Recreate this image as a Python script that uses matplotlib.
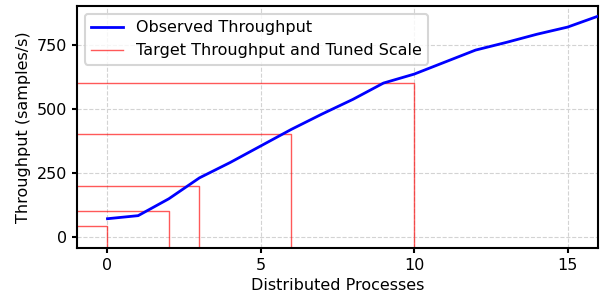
import numpy as np
import matplotlib.pyplot as plt

# observed throughput per number of processes
procs = [0, 1, 2, 3, 4, 5, 6, 7, 8, 9, 10, 11, 12, 13, 14, 15, 16]
throughput = [70, 82, 148, 230, 290, 355, 420, 480, 537, 601, 636, 683, 730, 760, 792, 820, 863]

# target throughput and tuned scale
target = [40, 100, 200, 400, 600]
scale = [0, 2, 3, 6, 10]

fig, ax = plt.subplots(figsize=(6, 2.95), dpi=100)

ax.plot(procs, throughput, color='blue', lw=2, label='Observed Throughput', zorder=3)

ymin = -45
for i, (t, s) in enumerate(zip(target, scale)):
    lbl = 'Target Throughput and Tuned Scale' if i == 0 else None
    ax.plot([-1, s, s], [t, t, ymin], color='red', alpha=0.65, lw=1, label=lbl)

ax.set_xlim(-1, 16)
ax.set_ylim(ymin, 903)
ax.set_xticks([0, 5, 10, 15])
ax.set_yticks([0, 250, 500, 750])
ax.set_xlabel('Distributed Processes', fontsize=11.5)
ax.set_ylabel('Throughput (samples/s)', fontsize=11.5)
ax.tick_params(labelsize=11.5, width=1.5)
for sp in ax.spines.values():
    sp.set_linewidth(1.5)
ax.grid(True, ls='--', color='lightgray')
leg = ax.legend(loc='upper left', fontsize=11.5)
leg.get_frame().set_linewidth(1.5)

plt.subplots_adjust(left=0.128, right=0.997, top=0.98, bottom=0.159)
plt.savefig('out.png')
